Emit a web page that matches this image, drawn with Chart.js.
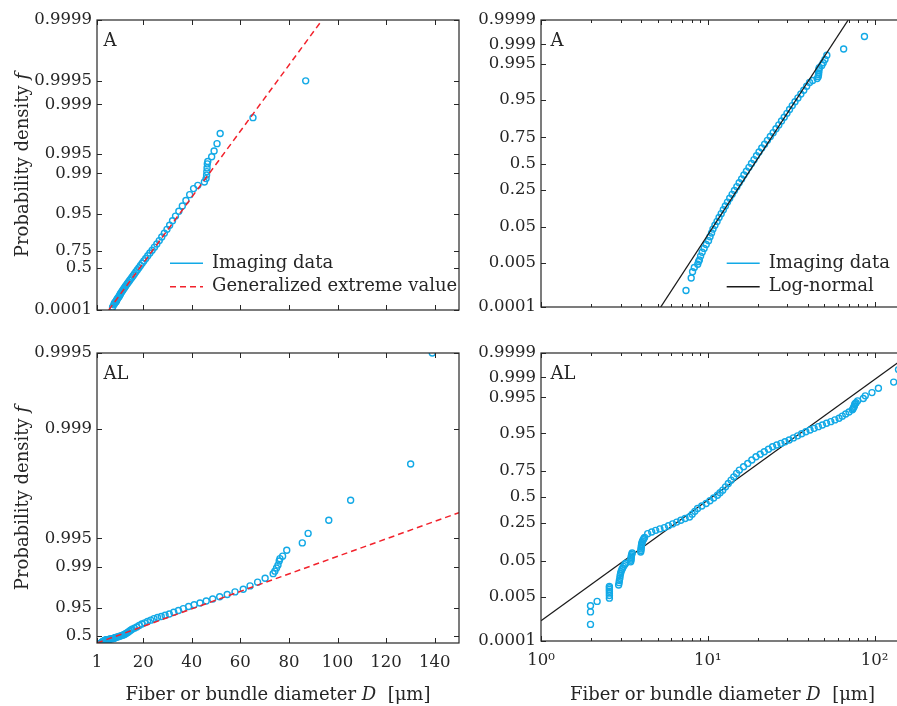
<!DOCTYPE html>
<html>
<head>
<meta charset="utf-8">
<script src="https://cdn.jsdelivr.net/npm/chart.js@4.4.1/dist/chart.umd.min.js"></script>
<style>
  html, body { margin: 0; padding: 0; background: #fff; width: 897px; height: 706px; overflow: hidden; }
  .painel { position: absolute; }
</style>
</head>
<body>
<div class="painel" style="left:0;top:0"><canvas id="grafico-a-gev" width="480" height="330"></canvas></div>
<div class="painel" style="left:445px;top:0"><canvas id="grafico-a-logn" width="475" height="330"></canvas></div>
<div class="painel" style="left:0;top:330px"><canvas id="grafico-al-gev" width="480" height="376"></canvas></div>
<div class="painel" style="left:445px;top:330px"><canvas id="grafico-al-logn" width="475" height="376"></canvas></div>
<script>
// Conjunto A: diametro (um) e probabilidade empirica de cada ponto
var diametrosA = [7.4, 7.95, 8.1, 8.3, 8.7, 8.8, 8.9, 9.05, 9.25, 9.5, 9.78, 10.1, 10.31, 10.53, 10.74, 11.03,
  11.36, 11.68, 12.03, 12.39, 12.74, 13.12, 13.53, 13.99, 14.44, 14.93, 15.42, 15.95, 16.46, 17.04, 17.65,
  18.27, 18.92, 19.59, 20.28, 21.06, 21.9, 22.77, 23.7, 24.64, 25.62, 26.64, 27.65, 28.71, 29.81, 30.9,
  32.09, 33.32, 34.69, 36.12, 37.6, 39.15, 40.75, 42.5, 45.2, 45.9, 46.1, 46.2, 46.3, 46.4, 46.6, 48.2,
  49.2, 50.4, 51.7, 65.2, 86.9];
var probsA = [0.0005, 0.0015, 0.0025, 0.0035, 0.0045, 0.0055, 0.0062, 0.0082, 0.0107, 0.0139, 0.0179, 0.0228,
  0.0287, 0.0359, 0.0446, 0.0548, 0.0668, 0.0808, 0.0968, 0.1151, 0.1357, 0.1587, 0.1841, 0.2119, 0.2420,
  0.2743, 0.3085, 0.3446, 0.3821, 0.4207, 0.4602, 0.5000, 0.5398, 0.5793, 0.6179, 0.6554, 0.6915, 0.7258,
  0.7580, 0.7881, 0.8159, 0.8413, 0.8643, 0.8849, 0.9032, 0.9192, 0.9332, 0.9452, 0.9554, 0.9641, 0.9713,
  0.9773, 0.9821, 0.9842, 0.9861, 0.9878, 0.9893, 0.9906, 0.9918, 0.9929, 0.9935, 0.9945, 0.9955, 0.9965,
  0.9975, 0.9985, 0.9995];

// Conjunto AL
var diametrosAL = [1.98, 1.98, 1.98, 2.17, 2.57, 2.57, 2.57, 2.57, 2.57, 2.57, 2.57,
  2.92, 2.94, 2.95, 2.97, 2.98, 3.0, 3.02, 3.05, 3.08, 3.12, 3.17, 3.22,
  3.45, 3.46, 3.47, 3.47, 3.48, 3.5, 3.52,
  3.96, 3.97, 3.98, 3.99, 4.0, 4.01, 4.03, 4.06, 4.1, 4.14,
  4.18, 4.36, 4.61, 4.87, 5.16, 5.49, 5.81, 6.15, 6.51, 6.89, 7.31, 7.77, 8.06, 8.36, 8.68, 9.2, 9.77,
  10.3, 10.84, 11.42, 11.84, 12.29, 12.77, 13.27, 13.79, 14.31, 14.87, 15.46, 16.38, 17.35, 18.36, 19.45,
  20.61, 21.81, 23.1, 24.44, 25.9, 27.44, 29.03, 30.75, 32.58, 34.52, 36.52, 38.7, 41.0, 43.4, 45.96,
  48.63, 51.5, 54.6, 57.8, 61.2, 64.0, 67.1, 70.2, 73.5,
  74.2, 74.9, 75.5, 76.0, 76.3, 77.4, 79.1, 85.5, 87.9, 96.4, 105.4, 130.1, 139.0];
var probsAL = [0.0005, 0.0015, 0.0025, 0.0035, 0.0045, 0.0055, 0.0065, 0.0075, 0.0085, 0.0095, 0.0105,
  0.0115, 0.0135, 0.0155, 0.018, 0.021, 0.024, 0.027, 0.030, 0.033, 0.0365, 0.040, 0.0435,
  0.047, 0.051, 0.055, 0.059, 0.064, 0.069, 0.074,
  0.078, 0.084, 0.090, 0.097, 0.104, 0.111, 0.119, 0.127, 0.135, 0.142,
  0.1487, 0.1720, 0.1835, 0.1947, 0.2050, 0.2145, 0.2284, 0.2435, 0.2585, 0.2739, 0.2887, 0.3030, 0.3289,
  0.3553, 0.3828, 0.4078, 0.4332, 0.4618, 0.4896, 0.5187, 0.5443, 0.5700, 0.6032, 0.6368, 0.6683, 0.6988,
  0.7288, 0.7565, 0.7823, 0.8067, 0.8299, 0.8506, 0.8652, 0.8788, 0.8914, 0.9030, 0.9104, 0.9168, 0.9234,
  0.9295, 0.9366, 0.9428, 0.9488, 0.9542, 0.9583, 0.9619, 0.9654, 0.9686, 0.9716, 0.9742, 0.9768, 0.9791,
  0.9816, 0.9839, 0.9859, 0.9878,
  0.9887, 0.9897, 0.9905, 0.9915, 0.9920, 0.9925, 0.9935, 0.9945, 0.9955, 0.9965, 0.9975, 0.9985, 0.9995];

// Parametros dos ajustes (GEV: k, sigma, mu; log-normal: mu e sigma de ln D)
var ajusteGevA = { k: 0.09, sigma: 5.37, mu: 16.65 };
var ajusteGevAL = { k: 0.427, sigma: 5.63, mu: 7.12 };
var ajusteLognA = { mu: 2.9466, sigma: 0.348 };
var ajusteLognAL = { mu: 2.3624, sigma: 0.7391 };

// Marcas dos eixos
var ticksGevA = [0.0001, 0.5, 0.75, 0.95, 0.99, 0.995, 0.999, 0.9995, 0.9999];
var ticksGevAL = [0.5, 0.95, 0.99, 0.995, 0.999, 0.9995];
var ticksLogn = [0.0001, 0.005, 0.05, 0.25, 0.5, 0.75, 0.95, 0.995, 0.999, 0.9999];
var ticksDiametro = [1, 20, 40, 60, 80, 100, 120, 140];
var ticksLog = [1, 2, 3, 4, 5, 6, 7, 8, 9, 10, 20, 30, 40, 50, 60, 70, 80, 90, 100];
var rotulosLog = { 1: '10\u2070', 10: '10\u00b9', 100: '10\u00b2' };

var CIANO = '#12a9e6';
var VERMELHO = '#f2222c';
var PRETO = '#1a1a1a';
var COR_EIXO = '#262626';
var FAMILIA = '"DejaVu Serif", serif';
var FONTE_TICK = { family: FAMILIA, size: 16.5 };
var FONTE_TEXTO = '18px "DejaVu Serif", serif';
var FONTE_ITALICO = 'italic 18px "DejaVu Serif", serif';

function quantilGev(p, g) {
    return g.mu + g.sigma / g.k * (Math.pow(-Math.log(p), -g.k) - 1);
}

// inversa da normal padrao (Acklam)
function quantilNormal(p) {
    var a = [-3.969683028665376e+01, 2.209460984245205e+02, -2.759285104469687e+02, 1.383577518672690e+02, -3.066479806614716e+01, 2.506628277459239e+00];
    var b = [-5.447609879822406e+01, 1.615858368580409e+02, -1.556989798598866e+02, 6.680131188771972e+01, -1.328068155288572e+01];
    var c = [-7.784894002430293e-03, -3.223964580411365e-01, -2.400758277161838e+00, -2.549732539343734e+00, 4.374664141464968e+00, 2.938163982698783e+00];
    var d = [7.784695709041462e-03, 3.224671290700398e-01, 2.445134137142996e+00, 3.754408661907416e+00];
    var q, r;
    if (p < 0.02425) {
        q = Math.sqrt(-2 * Math.log(p));
        return (((((c[0]*q+c[1])*q+c[2])*q+c[3])*q+c[4])*q+c[5]) / ((((d[0]*q+d[1])*q+d[2])*q+d[3])*q+1);
    }
    if (p > 1 - 0.02425) {
        q = Math.sqrt(-2 * Math.log(1 - p));
        return -(((((c[0]*q+c[1])*q+c[2])*q+c[3])*q+c[4])*q+c[5]) / ((((d[0]*q+d[1])*q+d[2])*q+d[3])*q+1);
    }
    q = p - 0.5; r = q * q;
    return (((((a[0]*r+a[1])*r+a[2])*r+a[3])*r+a[4])*r+a[5])*q / (((((b[0]*r+b[1])*r+b[2])*r+b[3])*r+b[4])*r+1);
}

// Caixa, marcas para dentro, legenda, rotulo do painel e titulos dos eixos
var quadroMatlab = {
    id: 'quadro',
    afterDraw: function (chart, args, o) {
        var ctx = chart.ctx, a = chart.chartArea;
        var x = chart.scales.x, y = chart.scales.y;
        ctx.save();
        ctx.strokeStyle = COR_EIXO;
        ctx.lineWidth = 1;
        ctx.beginPath();
        x.ticks.forEach(function (t) {
            var px = Math.round(x.getPixelForValue(t.value)) + 0.5;
            var tam = t.menor ? 3 : 5;
            ctx.moveTo(px, a.bottom); ctx.lineTo(px, a.bottom - tam);
            ctx.moveTo(px, a.top); ctx.lineTo(px, a.top + tam);
        });
        y.ticks.forEach(function (t) {
            var py = Math.round(y.getPixelForValue(t.value)) + 0.5;
            ctx.moveTo(a.left, py); ctx.lineTo(a.left + 5, py);
            ctx.moveTo(a.right, py); ctx.lineTo(a.right - 5, py);
        });
        ctx.stroke();
        ctx.lineWidth = 1.2;
        ctx.strokeRect(a.left, a.top, a.right - a.left, a.bottom - a.top);

        ctx.fillStyle = COR_EIXO;
        ctx.font = FONTE_TEXTO;
        ctx.textAlign = 'left';
        ctx.textBaseline = 'alphabetic';
        ctx.fillText(o.rotulo, a.left + o.rotuloX, a.top + 26);

        // legenda (na ordem: dados, ajuste)
        if (o.legendaX) {
            var itens = [chart.data.datasets[1], chart.data.datasets[0]];
            itens.forEach(function (ds, i) {
                var yy = a.top + 243.3 + i * 23.4;
                ctx.beginPath();
                ctx.strokeStyle = ds.borderColor;
                ctx.lineWidth = 1.4;
                ctx.setLineDash(ds.borderDash || []);
                ctx.moveTo(a.left + o.legendaX, yy);
                ctx.lineTo(a.left + o.legendaX + 33, yy);
                ctx.stroke();
                ctx.setLineDash([]);
                ctx.textBaseline = 'middle';
                ctx.fillText(ds.label, a.left + o.legendaX + 42, yy);
            });
        }

        if (o.tituloY) {
            ctx.save();
            var cy = (a.top + a.bottom) / 2;
            ctx.translate(27.5, cy);
            ctx.rotate(-Math.PI / 2);
            ctx.textBaseline = 'alphabetic';
            ctx.font = FONTE_TEXTO;
            var t1 = 'Probability density ';
            var w1 = ctx.measureText(t1).width;
            ctx.font = FONTE_ITALICO;
            var w2 = ctx.measureText('f').width;
            var x0 = -(w1 + w2) / 2;
            ctx.font = FONTE_TEXTO;
            ctx.fillText(t1, x0, 0);
            ctx.font = FONTE_ITALICO;
            ctx.fillText('f', x0 + w1, 0);
            ctx.restore();
        }

        if (o.tituloX) {
            var partes = [['Fiber or bundle diameter ', FONTE_TEXTO], ['D', FONTE_ITALICO], ['  [\u03bcm]', FONTE_TEXTO]];
            var total = 0;
            partes.forEach(function (pt) { ctx.font = pt[1]; total += ctx.measureText(pt[0]).width; });
            var xx = (a.left + a.right) / 2 - total / 2;
            ctx.textBaseline = 'alphabetic';
            partes.forEach(function (pt) {
                ctx.font = pt[1];
                ctx.fillText(pt[0], xx, chart.height - 6.5);
                xx += ctx.measureText(pt[0]).width;
            });
        }
        ctx.restore();
    }
};

function eixoSemGrade() {
    return { grid: { display: false, drawTicks: false }, border: { display: false } };
}

function eixoXLinear(altura, comRotulos) {
    return Object.assign(eixoSemGrade(), {
        type: 'linear', min: 1, max: 150,
        afterBuildTicks: function (s) { s.ticks = ticksDiametro.map(function (v) { return { value: v }; }); },
        afterFit: function (s) { s.height = altura; },
        ticks: { display: comRotulos, autoSkip: false, padding: 10, color: COR_EIXO, font: FONTE_TICK, maxRotation: 0,
                 callback: function (v) { return String(v); } }
    });
}

function eixoXLog(altura, comRotulos) {
    return Object.assign(eixoSemGrade(), {
        type: 'logarithmic', min: 1, max: 150,
        afterBuildTicks: function (s) {
            s.ticks = ticksLog.map(function (v) { return { value: v, menor: !rotulosLog[v] }; });
        },
        afterFit: function (s) { s.height = altura; },
        ticks: { display: comRotulos, autoSkip: false, padding: 10, color: COR_EIXO, font: FONTE_TICK, maxRotation: 0,
                 callback: function (v) { return rotulosLog[v] || ''; } }
    });
}

function eixoYProb(probs, transforma, minimo, maximo, largura) {
    return Object.assign(eixoSemGrade(), {
        type: 'linear', min: minimo, max: maximo,
        afterBuildTicks: function (s) { s.ticks = probs.map(function (p) { return { value: transforma(p) }; }); },
        afterFit: function (s) { s.width = largura; },
        ticks: { autoSkip: false, padding: 5, color: COR_EIXO, font: FONTE_TICK,
                 callback: function (v, i) { return String(probs[i]); } }
    });
}

function datasetPontos(diametros, probs, transforma, ordem) {
    return {
        label: 'Imaging data',
        data: diametros.map(function (d, i) { return { x: d, y: transforma(probs[i]) }; }),
        borderColor: CIANO, backgroundColor: 'rgba(0,0,0,0)',
        pointRadius: 3, borderWidth: 1.4, order: ordem
    };
}

// linha y = x do ajuste GEV, limitada aos eixos
function linhaGev(xMin, xMax, yMin, yMax) {
    var lo = Math.max(xMin, yMin), hi = Math.min(xMax, yMax);
    return {
        label: 'Generalized extreme value',
        data: [{ x: lo, y: lo }, { x: hi, y: hi }],
        showLine: true, borderColor: VERMELHO, borderDash: [6, 4], borderWidth: 1.5,
        pointRadius: 0, order: 0
    };
}

// reta do ajuste log-normal (z = (ln D - mu)/sigma)
function linhaLogn(aj, zMax, ordem) {
    var lo = Math.max(1, Math.exp(aj.mu - aj.sigma * zMax));
    var hi = Math.min(150, Math.exp(aj.mu + aj.sigma * zMax));
    return {
        label: 'Log-normal',
        data: [lo, hi].map(function (d) { return { x: d, y: (Math.log(d) - aj.mu) / aj.sigma }; }),
        showLine: true, borderColor: PRETO, borderWidth: 1.3, pointRadius: 0, order: ordem
    };
}

function opcoesBase(padding, escalas, quadro) {
    return {
        responsive: false, animation: false, events: [],
        layout: { padding: padding },
        plugins: { legend: { display: false }, tooltip: { enabled: false }, quadro: quadro },
        scales: escalas
    };
}

function inicializarGraficos() {
    var zMax = quantilNormal(0.9999);
    var gevA = function (p) { return quantilGev(p, ajusteGevA); };
    var gevAL = function (p) { return quantilGev(p, ajusteGevAL); };

    // A - valor extremo generalizado
    var yMinA = gevA(0.0001), yMaxA = gevA(0.9999);
    new Chart(document.getElementById('grafico-a-gev'), {
        type: 'scatter',
        data: { datasets: [linhaGev(1, 150, yMinA, yMaxA), datasetPontos(diametrosA, probsA, gevA, 1)] },
        options: opcoesBase({ top: 20, right: 21, bottom: 0, left: 0 },
            { x: eixoXLinear(20, false), y: eixoYProb(ticksGevA, gevA, yMinA, yMaxA, 97) },
            { rotulo: 'A', rotuloX: 6.5, legendaX: 73, tituloY: true }),
        plugins: [quadroMatlab]
    });

    // A - log-normal
    new Chart(document.getElementById('grafico-a-logn'), {
        type: 'scatter',
        data: { datasets: [linhaLogn(ajusteLognA, zMax, 0), datasetPontos(diametrosA, probsA, quantilNormal, 1)] },
        options: opcoesBase({ top: 20, right: 16, bottom: 0, left: 0 },
            { x: eixoXLog(23, false), y: eixoYProb(ticksLogn, quantilNormal, -zMax, zMax, 96) },
            { rotulo: 'A', rotuloX: 9.5, legendaX: 185.7 }),
        plugins: [quadroMatlab]
    });

    // AL - valor extremo generalizado
    var yMaxAL = gevAL(0.9995);
    new Chart(document.getElementById('grafico-al-gev'), {
        type: 'scatter',
        data: { datasets: [linhaGev(1, 150, 1, yMaxAL), datasetPontos(diametrosAL, probsAL, gevAL, 1)] },
        options: opcoesBase({ top: 23, right: 21, bottom: 0, left: 0 },
            { x: eixoXLinear(63, true), y: eixoYProb(ticksGevAL, gevAL, 1, yMaxAL, 97) },
            { rotulo: 'AL', rotuloX: 6.5, tituloY: true, tituloX: true }),
        plugins: [quadroMatlab]
    });

    // AL - log-normal (reta por baixo dos pontos)
    new Chart(document.getElementById('grafico-al-logn'), {
        type: 'scatter',
        data: { datasets: [linhaLogn(ajusteLognAL, zMax, 2), datasetPontos(diametrosAL, probsAL, quantilNormal, 1)] },
        options: opcoesBase({ top: 23, right: 16, bottom: 0, left: 0 },
            { x: eixoXLog(65, true), y: eixoYProb(ticksLogn, quantilNormal, -zMax, zMax, 96) },
            { rotulo: 'AL', rotuloX: 9.5, tituloX: true }),
        plugins: [quadroMatlab]
    });
}

window.onload = inicializarGraficos;
</script>
</body>
</html>
